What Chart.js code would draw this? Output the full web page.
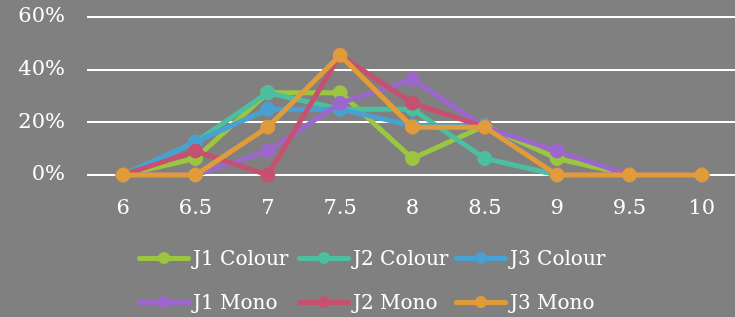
<!DOCTYPE html>
<html>
<head>
<meta charset="utf-8">
<script src="https://cdn.jsdelivr.net/npm/chart.js@4/dist/chart.umd.min.js"></script>
<style>
  html, body { margin: 0; padding: 0; background: #808080; overflow: hidden; }
  #wrap { position: relative; width: 738px; height: 317px; }
  #c { position: absolute; left: 0; top: 0; }
  #legend { position: absolute; left: 0; top: 0; width: 735px; height: 317px; pointer-events: none; }
  .item { position: absolute; display: flex; align-items: center; height: 26px;
          font-family: "DejaVu Serif", serif; font-size: 20px; color: #fff; white-space: nowrap; }
  .swatch { position: relative; width: 54px; height: 26px; margin-right: 2px; }
  .swatch .ln { position: absolute; left: 0; right: 0; top: 10.5px; height: 5px; border-radius: 2.5px; }
  .swatch .dot { position: absolute; left: 21px; top: 7px; width: 12px; height: 12px; border-radius: 50%; }
</style>
</head>
<body>
<div id="wrap">
  <canvas id="c" width="738" height="317"></canvas>
  <div id="legend"></div>
</div>
<script>
const categories = ["6", "6.5", "7", "7.5", "8", "8.5", "9", "9.5", "10"];
const seriesNames = ["J1 Colour", "J2 Colour", "J3 Colour", "J1 Mono", "J2 Mono", "J3 Mono"];
const j1Colour = [0, 6.25, 31.25, 31.25, 6.25, 18.75, 6.25, 0, 0];
const j2Colour = [0, 12.5, 31.25, 25, 25, 6.25, 0, 0, 0];
const j3Colour = [0, 12.5, 25, 25, 18.75, 18.75, 0, 0, 0];
const j1Mono = [0, 0, 9.09, 27.27, 36.36, 18.18, 9.09, 0, 0];
const j2Mono = [0, 9.09, 0, 45.45, 27.27, 18.18, 0, 0, 0];
const j3Mono = [0, 0, 18.18, 45.45, 18.18, 18.18, 0, 0, 0];
const yTicks = [0, 20, 40, 60];

const colours = ["#9cc541", "#4bbfa0", "#48a0d3", "#9c67cc", "#c6506f", "#e09b3b"];
const allValues = [j1Colour, j2Colour, j3Colour, j1Mono, j2Mono, j3Mono];

const fontFam = "'DejaVu Serif', serif";

const datasets = allValues.map((vals, i) => ({
  label: seriesNames[i],
  data: vals,
  borderColor: colours[i],
  backgroundColor: colours[i],
  pointBackgroundColor: colours[i],
  pointBorderColor: colours[i],
  borderWidth: 5,
  pointRadius: 7,
  pointBorderWidth: 1,
  tension: 0,
  fill: false,
  clip: false,
  // later series on top
  order: allValues.length - i
}));

new Chart(document.getElementById("c"), {
  type: "line",
  data: { labels: categories, datasets: datasets },
  options: {
    responsive: false,
    animation: false,
    layout: { autoPadding: false, padding: { top: 17, left: 0, right: 0, bottom: 100 } },
    plugins: {
      legend: { display: false },
      tooltip: { enabled: false }
    },
    scales: {
      x: {
        offset: true,
        grid: { display: false },
        border: { display: false },
        afterFit: (s) => { s.height = 42; s.paddingLeft = 0; s.paddingRight = 0; },
        ticks: { color: "#fff", font: { family: fontFam, size: 21 }, padding: 13, maxRotation: 0 }
      },
      y: {
        min: 0,
        max: 60,
        afterBuildTicks: (axis) => { axis.ticks = yTicks.map(v => ({ value: v })); },
        afterFit: (s) => { s.width = 87; s.paddingTop = 0; s.paddingBottom = 0; },
        grid: { color: "#ffffff", lineWidth: 2, drawTicks: false },
        border: { display: false },
        ticks: {
          color: "#fff",
          font: { family: fontFam, size: 21 },
          padding: 22,
          callback: (v) => v + "%"
        }
      }
    }
  }
});

// Excel-like legend with aligned columns
const legendCols = [137, 297, 454];
const legendRows = [245, 289];
const legend = document.getElementById("legend");
seriesNames.forEach((name, i) => {
  const el = document.createElement("div");
  el.className = "item";
  el.style.left = legendCols[i % 3] + "px";
  el.style.top = legendRows[Math.floor(i / 3)] + "px";
  el.innerHTML = '<div class="swatch"><div class="ln" style="background:' + colours[i] +
    '"></div><div class="dot" style="background:' + colours[i] + '"></div></div><span>' + name + '</span>';
  legend.appendChild(el);
});
</script>
</body>
</html>
